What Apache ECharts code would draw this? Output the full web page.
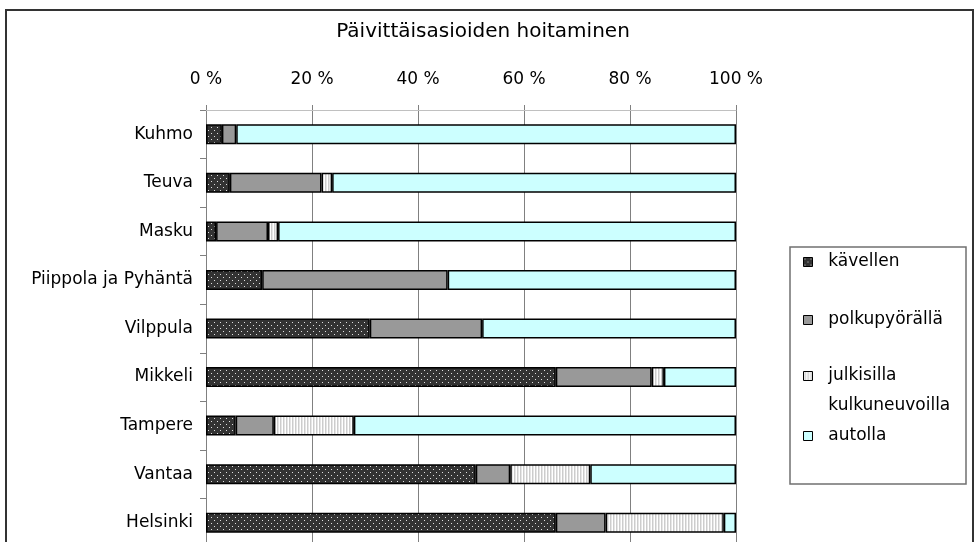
<!DOCTYPE html>
<html>
<head>
<meta charset="utf-8">
<script src="https://cdn.jsdelivr.net/npm/echarts@6/dist/echarts.min.js"></script>
<style>
  html, body { margin: 0; padding: 0; background: #fff; }
  #chart-container { width: 979px; height: 542px; }
</style>
</head>
<body>
<div id="chart-container"></div>
<script>
var categories = ['Kuhmo', 'Teuva', 'Masku', 'Piippola ja Pyhäntä', 'Vilppula', 'Mikkeli', 'Tampere', 'Vantaa', 'Helsinki'];
var seriesNames = ['kävellen', 'polkupyörällä', 'julkisilla kulkuneuvoilla', 'autolla'];
var kavellen = [3.0, 4.5, 1.9, 10.6, 30.9, 66.0, 5.6, 50.9, 66.0];
var polkupyoralla = [2.7, 17.3, 9.8, 35.0, 21.2, 18.1, 7.2, 6.5, 9.4];
var julkisilla = [0, 2.0, 1.9, 0, 0, 2.3, 15.1, 15.1, 22.3];
var autolla = [94.3, 76.2, 86.4, 54.4, 47.9, 13.6, 72.1, 27.5, 2.3];
var xTicks = [0, 20, 40, 60, 80, 100];

var font = 'DejaVu Sans';

// small canvas tiles for the excel-like fill patterns
function tile(w, h, bg, draw) {
    var c = document.createElement('canvas');
    c.width = w; c.height = h;
    var ctx = c.getContext('2d');
    ctx.fillStyle = bg;
    ctx.fillRect(0, 0, w, h);
    draw(ctx);
    return { image: c, repeat: 'repeat' };
}
var dots = tile(6, 6, '#333333', function (ctx) {
    ctx.fillStyle = '#e0e0e0';
    ctx.fillRect(1, 1, 1, 1);
    ctx.fillRect(4, 4, 1, 1);
});
var stripes = tile(3, 1, '#ffffff', function (ctx) {
    ctx.fillStyle = '#cccccc';
    ctx.fillRect(1, 0, 1, 1);
    ctx.fillStyle = '#e6e6e6';
    ctx.fillRect(2, 0, 1, 1);
});
var fills = [dots, '#999999', stripes, '#ccffff'];
var values = [kavellen, polkupyoralla, julkisilla, autolla];

var dom = document.getElementById('chart-container');
var myChart = echarts.init(dom, null, { renderer: 'canvas' });

// one legend per entry so the rows sit like in the original
var legendTops = [247, 305, 331, 421];
var legendLabels = ['  kävellen', '  polkupyörällä', '\n  julkisilla\n  kulkuneuvoilla', '  autolla'];
var legends = seriesNames.map(function (name, i) {
    return {
        data: [name],
        orient: 'vertical',
        left: 803,
        top: legendTops[i],
        padding: 0,
        itemWidth: 9,
        itemHeight: 9,
        icon: 'rect',
        selectedMode: false,
        itemStyle: { borderWidth: 1, borderColor: '#000' },
        formatter: function () { return legendLabels[i]; },
        textStyle: { fontFamily: font, fontSize: 17, color: '#000', lineHeight: 30 }
    };
});

var option = {
    animation: false,
    title: {
        text: 'Päivittäisasioiden hoitaminen',
        left: 483,
        top: 22,
        textAlign: 'center',
        padding: 0,
        textStyle: { fontFamily: font, fontSize: 20, fontWeight: 'normal', color: '#000' }
    },
    legend: legends,
    grid: { left: 206, top: 110, width: 530, height: 437, outerBoundsMode: 'none', containLabel: false },
    xAxis: {
        type: 'value',
        position: 'top',
        min: 0,
        max: 100,
        interval: 20,
        axisLine: { show: true, lineStyle: { color: '#c0c0c0', width: 1 } },
        axisTick: { show: true, length: 5, lineStyle: { color: '#808080' } },
        axisLabel: {
            margin: 22,
            fontFamily: font,
            fontSize: 17,
            color: '#000',
            formatter: function (v) { return xTicks.indexOf(v) >= 0 ? v + ' %' : ''; }
        },
        splitLine: { show: true, lineStyle: { color: '#808080', width: 1 } }
    },
    yAxis: {
        type: 'category',
        inverse: true,
        data: categories,
        axisLine: { show: true, lineStyle: { color: '#808080' } },
        axisTick: { show: true, length: 6, lineStyle: { color: '#808080' } },
        axisLabel: { margin: 13, fontFamily: font, fontSize: 17, color: '#000' }
    },
    series: seriesNames.map(function (name, i) {
        return {
            name: name,
            type: 'bar',
            stack: 'total',
            barWidth: 20,
            itemStyle: { color: fills[i], borderColor: '#000', borderWidth: 1.5 },
            data: values[i].map(function (v) { return v === 0 ? null : v; })
        };
    }),
    graphic: [
        {
            type: 'rect',
            shape: { x: 6, y: 10, width: 967, height: 560 },
            style: { fill: 'none', stroke: '#333', lineWidth: 2 },
            silent: true
        },
        {
            type: 'rect',
            shape: { x: 790, y: 247, width: 176, height: 237 },
            style: { fill: 'none', stroke: '#707070', lineWidth: 1.5 },
            silent: true
        }
    ]
};

myChart.setOption(option);
window.addEventListener('resize', myChart.resize);
</script>
</body>
</html>
